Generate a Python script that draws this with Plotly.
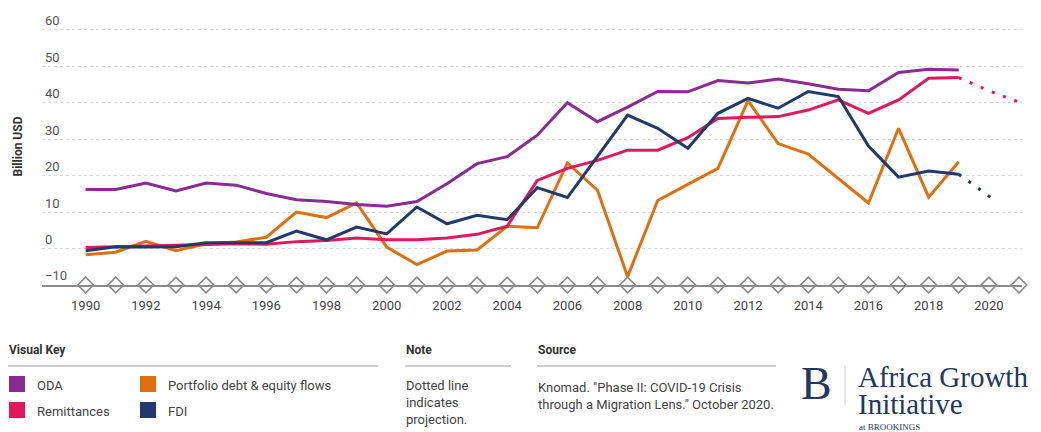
import plotly.graph_objects as go

years = list(range(1990, 2020))
oda = [16.2, 16.2, 18.0, 15.8, 18.0, 17.4, 15.1, 13.4, 12.9, 12.1,
       11.6, 12.9, 17.8, 23.3, 25.2, 31.1, 40.0, 34.8, 38.8, 43.1,
       43.0, 46.1, 45.4, 46.5, 45.2, 43.7, 43.3, 48.3, 49.2, 49.0]
remittances = [0.3, 0.5, 0.8, 1.0, 1.2, 1.3, 1.2, 1.9, 2.2, 2.9,
               2.4, 2.4, 2.9, 3.9, 6.1, 18.7, 22.0, 24.2, 27.0, 27.0,
               30.4, 35.7, 36.0, 36.2, 38.0, 40.8, 37.1, 40.8, 46.7, 46.9]
portfolio = [-1.7, -1.0, 2.0, -0.6, 1.3, 1.8, 3.1, 10.0, 8.5, 12.5,
             0.4, -4.4, -0.7, -0.4, 6.1, 5.7, 23.5, 16.0, -7.7, 13.2,
             17.6, 22.0, 40.6, 28.8, 25.9, 19.2, 12.5, 33.0, 14.1, 23.8]
fdi = [-0.6, 0.5, 0.4, 0.5, 1.6, 1.6, 1.6, 4.8, 2.4, 5.9,
       4.0, 11.4, 6.8, 9.1, 7.9, 16.7, 14.0, 25.3, 36.6, 33.0,
       27.5, 37.1, 41.2, 38.5, 43.1, 41.7, 28.1, 19.6, 21.3, 20.4]

rem_proj_years = [2019, 2020, 2021]
rem_proj = [46.9, 43.3, 40.2]
fdi_proj_years = [2019, 2020.2]
fdi_proj = [20.4, 13.2]

axis_years = list(range(1990, 2022))
axis_base = [-10] * len(axis_years)

C_ODA = "#8A2B92"
C_REM = "#E5175C"
C_POR = "#E0700F"
C_FDI = "#1F3A6B"

# page body has an 8px margin; size the figure so it fills the window exactly
OFF = 8
W, H = 1041 - OFF, 432 - OFF
L, R, T, B = 34, 19, 0, 147
PW, PH = W - L - R, H - T - B


def px(x):
    return (x - OFF - L) / PW


def py(y):
    return (H - B - (y - OFF)) / PH


fig = go.Figure()
fig.add_trace(go.Scatter(x=years, y=portfolio, mode="lines", name="Portfolio debt & equity flows",
                         line=dict(color=C_POR, width=3)))
fig.add_trace(go.Scatter(x=years, y=remittances, mode="lines", name="Remittances",
                         line=dict(color=C_REM, width=3)))
fig.add_trace(go.Scatter(x=rem_proj_years, y=rem_proj, mode="lines", name="Remittances projection",
                         line=dict(color=C_REM, width=3, dash="3px,9px")))
fig.add_trace(go.Scatter(x=years, y=oda, mode="lines", name="ODA",
                         line=dict(color=C_ODA, width=3)))
fig.add_trace(go.Scatter(x=years, y=fdi, mode="lines", name="FDI",
                         line=dict(color=C_FDI, width=3)))
fig.add_trace(go.Scatter(x=fdi_proj_years, y=fdi_proj, mode="lines", name="FDI projection",
                         line=dict(color=C_FDI, width=3, dash="3px,9px")))
fig.add_trace(go.Scatter(x=axis_years, y=axis_base, mode="markers", cliponaxis=False,
                         marker=dict(symbol="diamond", size=12, color="white",
                                     line=dict(color="#8a8a8a", width=1.6)),
                         hoverinfo="skip"))

fig.update_layout(
    width=W, height=H,
    margin=dict(l=L, r=R, t=T, b=B, autoexpand=False),
    paper_bgcolor="white", plot_bgcolor="white",
    showlegend=False,
    font=dict(family="Roboto", color="#333"),
    xaxis=dict(range=[1988.55, 2021.1], tick0=1990, dtick=2, showgrid=False,
               showline=True, linecolor="#8a8a8a", linewidth=2, ticks="",
               tickfont=dict(size=13, color="#444"), zeroline=False,
               ticklabelstandoff=7, automargin=False),
    yaxis=dict(range=[-10, 66], dtick=10, tick0=0, showgrid=True,
               gridcolor="#d9d9d9", griddash="dot", gridwidth=1,
               ticklabelposition="inside top", zeroline=False, automargin=False,
               tickfont=dict(size=13, color="#555"),
               title=dict(text="<b>Billion USD</b>", font=dict(size=12, color="#333"), standoff=19)),
)

ann = []
shapes = []


def text(x, y, s, size=13, color="#333", bold=False, family="Roboto", yanchor="middle"):
    ann.append(dict(x=px(x), y=py(y), xref="paper", yref="paper", text=("<b>%s</b>" % s) if bold else s,
                    showarrow=False, xanchor="left", yanchor=yanchor, align="left", borderpad=0,
                    font=dict(size=size, color=color, family=family)))


def hline(x0, x1, y):
    shapes.append(dict(type="line", xref="paper", yref="paper", x0=px(x0), x1=px(x1), y0=py(y), y1=py(y),
                       line=dict(color="#bdbdbd", width=1.5)))


def square(x, y, c):
    shapes.append(dict(type="rect", xref="paper", yref="paper", x0=px(x), x1=px(x + 16), y0=py(y), y1=py(y + 16),
                       fillcolor=c, line=dict(width=0)))


text(8, 350, "Visual Key", bold=True, size=12)
hline(8, 378, 366)
square(9, 376, C_ODA)
text(36, 385, "ODA", color="#444")
square(9, 402, C_REM)
text(36, 411, "Remittances", color="#444")
square(140, 376, C_POR)
text(167, 385, "Portfolio debt & equity flows", color="#444")
square(140, 402, C_FDI)
text(167, 411, "FDI", color="#444")

text(405, 350, "Note", bold=True, size=12)
hline(405, 511, 366)
text(405, 402, "Dotted line<br>indicates<br>projection.", color="#444")

text(537, 350, "Source", bold=True, size=12)
hline(537, 776, 366)
text(537, 396, "Knomad. \"Phase II: COVID-19 Crisis<br>through a Migration Lens.\" October 2020.", color="#444")

NAVY = "#22385f"
text(800, 383, "B", size=46, color=NAVY, family="Liberation Serif")
shapes.append(dict(type="line", xref="paper", yref="paper", x0=px(845), x1=px(845), y0=py(366), y1=py(406),
                   line=dict(color="#cfcfcf", width=1)))
text(857, 377, "Africa Growth", size=29, color=NAVY, family="Liberation Serif")
text(857, 404, "Initiative", size=29, color=NAVY, family="Liberation Serif")
text(858, 427, "at BROOKINGS", size=9, color=NAVY, family="Liberation Serif")

fig.update_layout(annotations=ann, shapes=shapes)
fig.write_html("out.html")
